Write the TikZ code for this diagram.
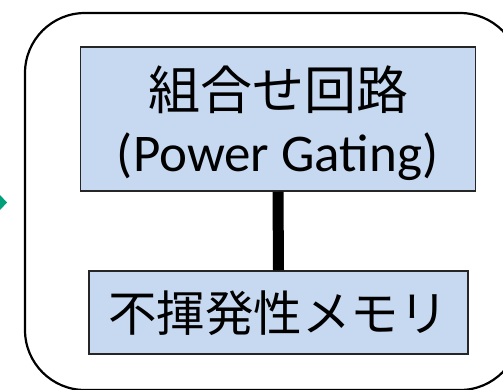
\documentclass[tikz,border=0pt]{standalone}
\usepackage{fontspec}
\setmainfont{Carlito}
\newfontfamily\cjk{Noto Sans CJK JP}
\definecolor{boxblue}{HTML}{C6D9F1}
\definecolor{arrowgreen}{HTML}{00A07A}
\begin{document}
\begin{tikzpicture}[x=1pt,y=-1pt,
  blockbox/.style={draw=black!85,line width=1.5pt,fill=boxblue,inner sep=0pt},
  outerbox/.style={draw=black,line width=2.2pt,rounded corners=60pt}]
\useasboundingbox (0,0) rectangle (503,389);
\draw[outerbox] (25,13) rectangle (520,390);
\node[blockbox,minimum width=395pt,minimum height=144pt] (top) at (278,119) {};
\node (t1) at (278,90) {\cjk\fontsize{52}{60}\selectfont 組合せ回路};
\node (t2) at (277.5,157) {\fontsize{53}{60}\selectfont (Power Gating)};
\node[blockbox,minimum width=379pt,minimum height=83pt] (mem) at (278.5,312.5) {};
\node (t3) at (278,313) {\cjk\fontsize{48.5}{56}\selectfont 不揮発性メモリ};
\draw[line width=11pt] (top.south) -- (mem.north);
\fill[arrowgreen] (0,195) -- (7,202.5) -- (0,210) -- cycle;
\end{tikzpicture}
\end{document}
